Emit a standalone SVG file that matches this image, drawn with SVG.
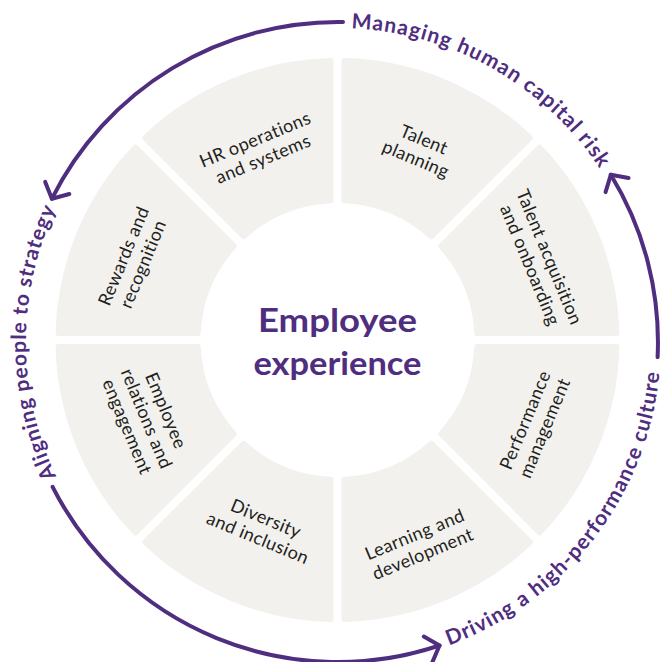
<svg xmlns="http://www.w3.org/2000/svg" width="664" height="662" viewBox="0 0 664 662">
  <style>
    .seg { fill: #f2f1ee; stroke: #f2f1ee; stroke-width: 6; stroke-linejoin: round; }
    .lbl { font-family: Lato, "Noto Sans", sans-serif; font-weight: 400; font-size: 18px; letter-spacing: 0.4px; fill: #231f20; text-anchor: middle; }
    .arc { fill: none; stroke: #4f2d7f; stroke-width: 4; stroke-linecap: round; }
    .theme { font-family: Lato, "Noto Sans", sans-serif; font-weight: 700; font-size: 21px; fill: #4f2d7f; }
    .title { font-family: Lato, "Noto Sans", sans-serif; font-weight: 700; font-size: 32px; fill: #4f2d7f; text-anchor: middle; }
  </style>
  <defs>
    <marker id="chev" viewBox="-20 -20 40 40" markerWidth="40" markerHeight="40" refX="0" refY="0" orient="auto" markerUnits="userSpaceOnUse">
      <path d="M-12,-13.5 L0,0 L-12,13.5" fill="none" stroke="#4f2d7f" stroke-width="4" stroke-linecap="round" stroke-linejoin="round"/>
    </marker>
    <!-- baselines for the three theme captions around the ring -->
    <path id="p-managing" d="M351.2,28.3 A314,314 0 0 1 599.8,168.7"/>
    <path id="p-aligning" d="M56.4,476.3 A312,312 0 0 1 55.9,208.6"/>
    <path id="p-driving" d="M449.0,645.3 A323,323 0 0 0 659.5,373.0"/>
  </defs>

  <!-- wheel segments -->
  <g id="seg-talent-planning">
    <path class="seg" d="M344.5,61.09 A279,279 0 0 1 529.77,137.83 L431.42,236.18 A140,140 0 0 0 344.5,200.18 Z"/>
    <text class="lbl" transform="translate(420,149) rotate(22.5)"><tspan x="0" y="-4">Talent</tspan><tspan x="0" y="17">planning</tspan></text>
  </g>
  <g id="seg-talent-acquisition">
    <path class="seg" d="M539.67,147.73 A279,279 0 0 1 616.41,333 L477.33,333 A140,140 0 0 0 441.32,246.08 Z"/>
    <text class="lbl" transform="translate(540,261) rotate(67.5)"><tspan x="0" y="-4">Talent acquisition</tspan><tspan x="0" y="17">and onboarding</tspan></text>
  </g>
  <g id="seg-performance">
    <path class="seg" d="M616.41,347 A279,279 0 0 1 539.67,532.27 L441.32,433.92 A140,140 0 0 0 477.33,347 Z"/>
    <text class="lbl" transform="translate(534.5,424) rotate(-67.5)"><tspan x="0" y="-4">Performance</tspan><tspan x="0" y="17">management</tspan></text>
  </g>
  <g id="seg-learning">
    <path class="seg" d="M529.77,542.17 A279,279 0 0 1 344.5,618.91 L344.5,479.83 A140,140 0 0 0 431.42,443.82 Z"/>
    <text class="lbl" transform="translate(418.7,544) rotate(-22.5)"><tspan x="0" y="-4">Learning and</tspan><tspan x="0" y="17">development</tspan></text>
  </g>
  <g id="seg-diversity">
    <path class="seg" d="M330.5,618.91 A279,279 0 0 1 145.23,542.17 L243.58,443.82 A140,140 0 0 0 330.5,479.83 Z"/>
    <text class="lbl" transform="translate(262,528) rotate(22.5)"><tspan x="0" y="-4">Diversity</tspan><tspan x="0" y="17">and inclusion</tspan></text>
  </g>
  <g id="seg-employee-relations">
    <path class="seg" d="M135.33,532.27 A279,279 0 0 1 58.59,347 L197.68,347 A140,140 0 0 0 233.68,433.92 Z"/>
    <text class="lbl" transform="translate(147.3,418.3) rotate(67.5)"><tspan x="0" y="-14">Employee</tspan><tspan x="0" y="7">relations and</tspan><tspan x="0" y="28">engagement</tspan></text>
  </g>
  <g id="seg-rewards">
    <path class="seg" d="M58.59,333 A279,279 0 0 1 135.33,147.73 L233.68,246.08 A140,140 0 0 0 197.68,333 Z"/>
    <text class="lbl" transform="translate(133,260) rotate(-67.5)"><tspan x="0" y="-4">Rewards and</tspan><tspan x="0" y="17">recognition</tspan></text>
  </g>
  <g id="seg-hr-operations">
    <path class="seg" d="M145.23,137.83 A279,279 0 0 1 330.5,61.09 L330.5,200.18 A140,140 0 0 0 243.58,236.18 Z"/>
    <text class="lbl" transform="translate(259,149) rotate(-22.5)"><tspan x="0" y="-4">HR operations</tspan><tspan x="0" y="17">and systems</tspan></text>
  </g>

  <!-- hub -->
  <g id="hub">
    <text class="title" x="337.5" y="332" textLength="159" lengthAdjust="spacingAndGlyphs">Employee</text>
    <text class="title" x="337.5" y="375" textLength="168" lengthAdjust="spacingAndGlyphs">experience</text>
  </g>

  <!-- outer cycle arrows -->
  <g id="connectors">
    <path class="arc" d="M343.0,22.0 A320,320 0 0 0 51.9,198.7" marker-end="url(#chev)"/>
    <path class="arc" d="M52.6,486.8 A320,320 0 0 0 439.5,645.5" marker-end="url(#chev)"/>
    <path class="arc" d="M657.6,357.1 A320,320 0 0 0 610.8,174.8" marker-end="url(#chev)"/>
  </g>

  <!-- theme captions -->
  <g id="themes">
    <text class="theme"><textPath href="#p-managing" textLength="296" lengthAdjust="spacing">Managing human capital risk</textPath></text>
    <text class="theme"><textPath href="#p-aligning" textLength="276" lengthAdjust="spacing">Aligning people to strategy</textPath></text>
    <text class="theme"><textPath href="#p-driving" textLength="363" lengthAdjust="spacing">Driving a high-performance culture</textPath></text>
  </g>
</svg>
